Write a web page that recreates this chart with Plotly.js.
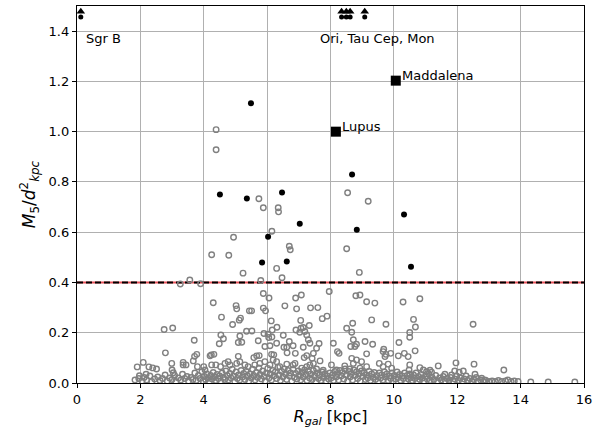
<!DOCTYPE html>
<html>
<head>
<meta charset="utf-8">
<script src="https://cdn.plot.ly/plotly-3.0.1.min.js"></script>
<style>
  html, body { margin: 0; padding: 0; background: #fff; }
  #plot { width: 600px; height: 433px; }
</style>
</head>
<body>
<div id="plot"></div>
<script>
// clumps: R_gal [kpc] vs M5/d^2

// open grey circles, all clumps
const grayX = [
  // above the 0.4 cut
  4.39, 4.39, 5.74, 5.88, 6.35, 6.36, 4.94, 6.15, 4.25, 4.79, 6.70, 6.73, 5.24, 6.30, 6.47, 5.80,
  8.54, 9.19, 8.51, 8.91, 3.56, 3.26, 3.90,
  // 1.8 - 5.4 kpc
  4.30, 5.02, 5.04, 5.44, 4.56, 5.16, 5.12, 4.91, 5.35, 2.75, 3.02, 4.54, 4.62, 5.14, 4.49, 5.09,
  5.20, 3.70, 2.79, 3.78, 3.71, 3.67, 4.24, 4.32, 4.20, 5.09, 2.09, 1.90, 2.27, 2.39, 2.51, 2.99,
  3.35, 3.35, 3.44, 3.00, 3.04, 3.80, 4.00, 4.04, 4.25, 4.38, 4.53, 4.67, 4.77, 4.83, 5.04, 5.14,
  5.30, 5.40, 2.18, 1.97, 1.83,
  // 5.4 - 9.2 kpc
  5.88, 6.06, 5.51, 5.88, 5.95, 6.56, 6.90, 7.08, 6.93, 7.37, 7.60, 7.96, 7.74, 7.89, 8.80, 8.93,
  9.14, 6.13, 6.31, 6.16, 5.90, 6.03, 6.05, 6.15, 5.52, 6.51, 6.91, 7.07, 7.14, 7.03, 7.19, 7.33,
  7.06, 7.25, 7.30, 7.35, 6.70, 6.82, 6.53, 6.62, 7.14, 7.64, 7.56, 7.46, 7.25, 7.17, 7.42, 7.67,
  6.89, 6.63, 6.30, 6.09, 5.93, 5.72, 6.14, 6.21, 5.67, 5.75, 5.58, 8.09, 8.22, 8.27, 8.51, 8.67,
  8.70, 8.72, 8.64, 8.77, 8.82, 9.09, 9.14, 8.67, 8.82, 8.98, 8.72, 8.03, 8.45, 6.88, 6.82, 7.35,
  7.46, 5.61, 5.77, 5.93, 6.19, 6.30, 6.09, 6.40, 6.62, 7.09, 7.25, 7.56, 7.77, 8.19, 8.61, 8.93,
  9.14,
  // 9.2 - 13 kpc
  9.40, 10.29, 10.82, 9.30, 9.75, 10.62, 10.68, 10.50, 10.50, 12.50, 9.33, 10.16, 9.68, 9.66, 9.75, 9.72,
  9.90, 10.14, 10.33, 10.45, 10.67, 9.54, 9.66, 9.82, 9.93, 10.50, 10.48, 10.82, 10.93, 11.03, 11.14, 11.19,
  11.40, 11.96, 11.92, 12.06, 12.19, 12.53, 12.56, 11.61, 11.82, 12.77, 12.87,
  // outer tail
  13.47, 14.32, 14.87, 15.71,
  // crowded band near zero
  1.95, 2.05, 2.12, 2.20, 2.30, 2.36, 2.45, 2.55, 2.62, 2.70, 2.78, 2.85, 2.92, 3.00, 3.08, 3.12,
  3.20, 3.28, 3.33, 3.40, 3.47, 3.52, 3.60, 3.66, 3.72, 3.76, 3.83, 3.88, 3.94, 3.98, 4.02, 4.06,
  4.10, 4.14, 4.18, 4.22, 4.26, 4.30, 4.34, 4.38, 4.42, 4.46, 4.50, 4.54, 4.58, 4.62, 4.66, 4.70,
  4.74, 4.78, 4.82, 4.86, 4.90, 4.94, 4.98, 5.02, 5.06, 5.10, 5.14, 5.18, 5.22, 5.26, 5.30, 5.34,
  5.38, 5.42, 5.46, 5.50, 5.54, 5.58, 5.62, 5.66, 5.70, 5.74, 5.78, 5.82, 5.86, 5.90, 5.94, 5.98,
  6.02, 6.06, 6.10, 6.14, 6.18, 6.22, 6.26, 6.30, 6.34, 6.38, 6.42, 6.46, 6.50, 6.54, 6.58, 6.62,
  6.66, 6.70, 6.74, 6.78, 6.82, 6.86, 6.90, 6.94, 6.98, 7.02, 7.06, 7.10, 7.14, 7.18, 7.22, 7.26,
  7.30, 7.34, 7.38, 7.42, 7.46, 7.50, 7.54, 7.58, 7.62, 7.66, 7.70, 7.74, 7.78, 7.82, 7.86, 7.90,
  7.94, 7.98, 8.02, 8.06, 8.10, 8.14, 8.18, 8.22, 8.26, 8.30, 8.34, 8.38, 8.42, 8.46, 8.50, 8.54,
  8.58, 8.62, 8.66, 8.70, 8.74, 8.78, 8.82, 8.86, 8.90, 8.94, 8.98, 9.02, 9.06, 9.10, 9.14, 9.18,
  9.22, 9.26, 9.30, 9.34, 9.38, 9.42, 9.46, 9.50, 9.54, 9.58, 9.62, 9.66, 9.70, 9.74, 9.78, 9.82,
  9.86, 9.90, 9.94, 9.98, 10.02, 10.06, 10.10, 10.14, 10.18, 10.22, 10.26, 10.30, 10.34, 10.38, 10.42, 10.46,
  10.50, 10.54, 10.58, 10.62, 10.66, 10.70, 10.74, 10.78, 10.82, 10.86, 10.90, 10.95, 11.00, 11.05, 11.10, 11.15,
  11.20, 11.26, 11.32, 11.38, 11.44, 11.50, 11.56, 11.62, 11.68, 11.74, 11.80, 11.86, 11.92, 11.98, 12.04, 12.10,
  12.16, 12.22, 12.28, 12.34, 12.40, 12.46, 12.52, 12.60, 12.66, 12.74, 12.82, 12.90, 13.00, 13.10, 13.20, 13.30,
  13.40, 13.52, 13.60, 13.70, 13.80, 13.92
];
const grayY = [
  1.008, 0.928, 0.733, 0.697, 0.697, 0.681, 0.580, 0.604, 0.510, 0.508, 0.544, 0.530, 0.437, 0.456, 0.419, 0.408,
  0.757, 0.723, 0.534, 0.440, 0.410, 0.394, 0.395,
  0.319, 0.308, 0.295, 0.287, 0.262, 0.258, 0.250, 0.233, 0.206, 0.213, 0.219, 0.191, 0.176, 0.187, 0.156, 0.161,
  0.162, 0.170, 0.120, 0.114, 0.106, 0.088, 0.112, 0.114, 0.108, 0.106, 0.082, 0.064, 0.064, 0.060, 0.056, 0.078,
  0.082, 0.072, 0.072, 0.052, 0.041, 0.065, 0.065, 0.052, 0.072, 0.072, 0.065, 0.078, 0.085, 0.072, 0.078, 0.085,
  0.072, 0.065, 0.035, 0.029, 0.012,
  0.356, 0.338, 0.287, 0.298, 0.287, 0.307, 0.338, 0.350, 0.295, 0.299, 0.300, 0.364, 0.256, 0.266, 0.347, 0.350,
  0.323, 0.247, 0.222, 0.211, 0.197, 0.194, 0.181, 0.183, 0.207, 0.190, 0.211, 0.218, 0.221, 0.202, 0.205, 0.229,
  0.249, 0.191, 0.172, 0.158, 0.165, 0.148, 0.142, 0.142, 0.142, 0.157, 0.138, 0.118, 0.109, 0.101, 0.098, 0.088,
  0.118, 0.120, 0.158, 0.148, 0.145, 0.168, 0.114, 0.112, 0.108, 0.109, 0.101, 0.158, 0.125, 0.118, 0.218, 0.202,
  0.238, 0.172, 0.145, 0.145, 0.154, 0.165, 0.116, 0.098, 0.092, 0.085, 0.078, 0.072, 0.068, 0.078, 0.072, 0.072,
  0.078, 0.072, 0.078, 0.085, 0.092, 0.085, 0.072, 0.065, 0.075, 0.059, 0.065, 0.056, 0.051, 0.052, 0.056, 0.059,
  0.065,
  0.318, 0.322, 0.335, 0.251, 0.234, 0.253, 0.223, 0.201, 0.182, 0.234, 0.154, 0.161, 0.134, 0.125, 0.114, 0.105,
  0.118, 0.108, 0.118, 0.105, 0.128, 0.078, 0.065, 0.075, 0.059, 0.072, 0.052, 0.061, 0.052, 0.045, 0.051, 0.043,
  0.068, 0.080, 0.048, 0.043, 0.048, 0.075, 0.035, 0.035, 0.032, 0.019, 0.012,
  0.052, 0.004, 0.004, 0.004,
  0.018, 0.008, 0.022, 0.012, 0.028, 0.006, 0.016, 0.024, 0.010, 0.018, 0.032, 0.008, 0.020, 0.014, 0.030, 0.006,
  0.020, 0.012, 0.035, 0.018, 0.026, 0.008, 0.022, 0.014, 0.040, 0.010, 0.030, 0.018, 0.045, 0.008, 0.026, 0.014,
  0.036, 0.020, 0.006, 0.030, 0.016, 0.042, 0.024, 0.010, 0.034, 0.018, 0.028, 0.008, 0.040, 0.022, 0.014, 0.048,
  0.030, 0.012, 0.038, 0.020, 0.055, 0.028, 0.006, 0.044, 0.018, 0.032, 0.012, 0.050, 0.024, 0.038, 0.014, 0.046,
  0.028, 0.008, 0.036, 0.020, 0.055, 0.030, 0.012, 0.042, 0.022, 0.060, 0.034, 0.016, 0.048, 0.026, 0.008, 0.040,
  0.058, 0.020, 0.036, 0.012, 0.050, 0.028, 0.044, 0.018, 0.062, 0.032, 0.010, 0.046, 0.024, 0.056, 0.036, 0.014,
  0.050, 0.028, 0.040, 0.008, 0.054, 0.022, 0.038, 0.016, 0.048, 0.030, 0.012, 0.042, 0.024, 0.052, 0.034, 0.010,
  0.046, 0.020, 0.036, 0.014, 0.050, 0.028, 0.006, 0.040, 0.018, 0.032, 0.010, 0.044, 0.022, 0.036, 0.008, 0.028,
  0.016, 0.040, 0.020, 0.032, 0.010, 0.046, 0.024, 0.038, 0.012, 0.050, 0.028, 0.042, 0.016, 0.056, 0.032, 0.008,
  0.046, 0.024, 0.038, 0.012, 0.052, 0.030, 0.044, 0.018, 0.036, 0.008, 0.048, 0.026, 0.040, 0.014, 0.032, 0.020,
  0.046, 0.010, 0.036, 0.022, 0.042, 0.014, 0.030, 0.006, 0.040, 0.020, 0.032, 0.012, 0.044, 0.024, 0.036, 0.010,
  0.028, 0.018, 0.040, 0.008, 0.030, 0.016, 0.044, 0.022, 0.034, 0.010, 0.028, 0.018, 0.040, 0.008, 0.030, 0.016,
  0.036, 0.022, 0.010, 0.032, 0.018, 0.040, 0.008, 0.026, 0.014, 0.034, 0.020, 0.008, 0.028, 0.016, 0.036, 0.010,
  0.024, 0.014, 0.030, 0.008, 0.020, 0.012, 0.026, 0.006, 0.018, 0.010, 0.022, 0.008, 0.016, 0.028, 0.010, 0.020,
  0.006, 0.016, 0.028, 0.010, 0.018, 0.006, 0.014, 0.022, 0.008, 0.012, 0.006, 0.010, 0.006, 0.008, 0.006, 0.010,
  0.006, 0.008, 0.012, 0.006, 0.008, 0.006
];

// filled black: clumps above the cut
const hotX = [5.49, 4.51, 5.36, 6.47, 7.03, 8.68, 6.03, 5.84, 6.62, 8.83, 10.32, 10.54];
const hotY = [1.113, 0.750, 0.734, 0.758, 0.634, 0.830, 0.582, 0.479, 0.483, 0.610, 0.670, 0.463];

// named clouds (squares)
const cloudNames = ['Maddalena', 'Lupus'];
const cloudX = [10.06, 8.17];
const cloudY = [1.203, 1.000];

// off-scale clumps, drawn as upward arrows
const arrowX = [0.12, 8.35, 8.50, 8.62, 9.08];
const arrowY = [1.456, 1.456, 1.456, 1.456, 1.456];
const arrowHeadY = [1.478, 1.478, 1.478, 1.478, 1.478];
const groupLabels = ['Sgr B', 'Ori, Tau Cep, Mon'];
const groupLabelX = [0.22, 9.47];
const groupLabelY = [1.37, 1.37];

const cut = 0.4;
const xTicks = [0, 2, 4, 6, 8, 10, 12, 14, 16];
const yTicks = [0.0, 0.2, 0.4, 0.6, 0.8, 1.0, 1.2, 1.4];

const font = 'DejaVu Sans, Liberation Sans, sans-serif';

const traces = [
  {
    x: [0, 16], y: [cut, cut], mode: 'lines', type: 'scatter',
    line: { color: '#e8525a', width: 2 }, hoverinfo: 'skip'
  },
  {
    x: [0, 16], y: [cut, cut], mode: 'lines', type: 'scatter',
    line: { color: 'black', width: 2, dash: '6px,3px' }, hoverinfo: 'skip'
  },
  {
    x: grayX, y: grayY, mode: 'markers', type: 'scatter',
    marker: { symbol: 'circle-open', color: 'grey', size: 5.5, line: { width: 1.4 } }
  },
  {
    x: hotX, y: hotY, mode: 'markers', type: 'scatter',
    marker: { color: 'black', size: 6 }
  },
  {
    x: cloudX, y: cloudY, mode: 'markers', type: 'scatter',
    marker: { color: 'black', symbol: 'square', size: 10 }
  },
  {
    x: arrowX, y: arrowY, mode: 'markers', type: 'scatter', cliponaxis: false,
    marker: { color: 'black', size: 5 }
  },
  {
    x: arrowX, y: arrowHeadY, mode: 'markers', type: 'scatter', cliponaxis: false,
    marker: { color: 'black', symbol: 'triangle-up', size: 7.5 }
  }
];

const annotations = groupLabels.map((t, i) => ({
  x: groupLabelX[i], y: groupLabelY[i], text: t, showarrow: false,
  xanchor: i === 0 ? 'left' : 'center', yanchor: 'middle',
  font: { family: font, size: 13, color: 'black' }
})).concat(cloudNames.map((t, i) => ({
  x: cloudX[i], y: cloudY[i], text: t, showarrow: false,
  xanchor: 'left', yanchor: 'middle', xshift: 4, yshift: 5,
  font: { family: font, size: 13, color: 'black' }
})));

const axisBase = {
  showline: true, linecolor: 'black', linewidth: 1.2, mirror: true,
  ticks: 'outside', ticklen: 4, tickwidth: 1, tickcolor: 'black',
  showgrid: true, gridcolor: '#b0b0b0', gridwidth: 1, zeroline: false,
  tickfont: { family: font, size: 13, color: 'black' }
};

const layout = {
  width: 600, height: 433,
  margin: { l: 77, r: 16, t: 6, b: 50 },
  paper_bgcolor: 'white', plot_bgcolor: 'white',
  showlegend: false,
  font: { family: font, color: 'black' },
  xaxis: Object.assign({}, axisBase, {
    range: [0, 16], tickvals: xTicks,
    title: { text: '<i>R</i><sub><i>gal</i></sub> [kpc]', font: { family: font, size: 16 }, standoff: 4 }
  }),
  yaxis: Object.assign({}, axisBase, {
    range: [0, 1.5], tickvals: yTicks, tickformat: '.1f',
    title: { text: '<i>M</i><sub>5</sub>/<i>d</i><sup>2</sup><sub><i>kpc</i></sub>', font: { family: font, size: 17 }, standoff: 8 }
  }),
  annotations: annotations
};

Plotly.newPlot('plot', traces, layout, { staticPlot: true, displayModeBar: false });
</script>
</body>
</html>
